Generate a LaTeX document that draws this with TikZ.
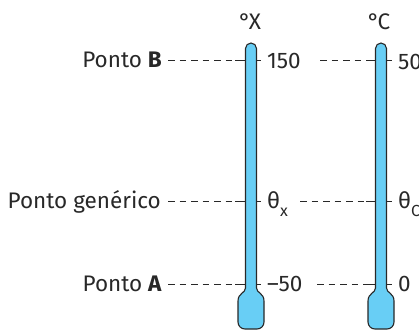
\documentclass[tikz,border=0pt]{standalone}
\usepackage{fontspec}
\setmainfont{Fira Sans}
\definecolor{tubeblue}{RGB}{104,206,245}
\definecolor{ink}{RGB}{40,40,40}
\tikzset{
  thermo/.style={draw=ink, line width=1.1pt, fill=tubeblue, line join=round},
  lbl/.style={font=\fontsize{22.5}{26}\selectfont, text=ink, inner sep=0pt},
  dsh/.style={draw=ink, line width=0.9pt, dash pattern=on 6.5pt off 5pt},
  tick/.style={draw=ink, line width=0.9pt}
}
\newcommand\mysub[1]{\raisebox{-8pt}{\fontsize{16}{18}\selectfont #1}}
\newcommand\mythermo[1]{%
  \draw[thermo] ({#1-5.5},288) [rounded corners=5.5pt] -- ({#1-5.5},43) -- ({#1+5.5},43) [sharp corners] -- ({#1+5.5},288)
    .. controls ({#1+5.5},293) and ({#1+13},293) .. ({#1+13},301) [rounded corners=7pt] -- ({#1+13},329) -- ({#1-13},329) [sharp corners] -- ({#1-13},301)
    .. controls ({#1-13},293) and ({#1-5.5},293) .. ({#1-5.5},288) -- cycle;
}
\begin{document}
\begin{tikzpicture}[x=1pt,y=-1pt]
\useasboundingbox (0,0) rectangle (419,331);
% thermometers
\mythermo{251}
\mythermo{381}
% units
\node[lbl, anchor=base] (uX) at (250,30) {°\kern-2pt X};
\node[lbl, anchor=base] (uC) at (379,30) {°\kern-2pt C};
% left labels
\node[lbl, anchor=base east] (pB) at (162,68) {Ponto \textbf{B}};
\node[lbl, anchor=base east] (pG) at (161,208) {Ponto genérico};
\node[lbl, anchor=base east] (pA) at (162,291) {Ponto \textbf{A}};
% values X
\node[lbl, anchor=base west] (v150) at (267,69) {150};
\node[lbl, anchor=base west] (thx) at (267,208) {θ\mysub{x}};
\node[lbl, anchor=base west] (vm50) at (267,291) {–50};
% values C
\node[lbl, anchor=base west] (v50) at (398,70) {50};
\node[lbl, anchor=base west] (thc) at (398,208) {θ\mysub{C}};
\node[lbl, anchor=base west] (v0) at (398,291) {0};
% tick coordinates X
\coordinate (xBl) at (235,60); \coordinate (xBi) at (245.5,60); \coordinate (xBr) at (256.5,60); \coordinate (xBe) at (261,60);
\coordinate (xGl) at (235,201.5); \coordinate (xGi) at (245.5,201.5); \coordinate (xGr) at (256.5,201.5); \coordinate (xGe) at (261,201.5);
\coordinate (xAl) at (235,284); \coordinate (xAi) at (245.5,284); \coordinate (xAr) at (256.5,284); \coordinate (xAe) at (261,284);
% tick coordinates C
\coordinate (cBl) at (366,60); \coordinate (cBi) at (375.5,60); \coordinate (cBr) at (386.5,60); \coordinate (cBe) at (392,60);
\coordinate (cGl) at (366,201.5); \coordinate (cGi) at (375.5,201.5); \coordinate (cGr) at (386.5,201.5); \coordinate (cGe) at (392,201.5);
\coordinate (cAl) at (366,284); \coordinate (cAi) at (375.5,284); \coordinate (cAr) at (386.5,284); \coordinate (cAe) at (392,284);
% dash starts
\coordinate (sB) at (168,60); \coordinate (sG) at (168,201.5); \coordinate (sA) at (168,284);
\coordinate (mB) at (320,60); \coordinate (mG) at (300,201.5); \coordinate (mA) at (317,284);
% dashed lines
\draw[dsh] (sB) -- (xBl); \draw[dsh] (sG) -- (xGl); \draw[dsh] (sA) -- (xAl);
\draw[dsh] (mB) -- (cBl); \draw[dsh] (mG) -- (cGl); \draw[dsh] (mA) -- (cAl);
% ticks
\foreach \t in {xB,xG,xA,cB,cG,cA}{
  \draw[tick] (\t l) -- (\t i);
  \draw[tick] (\t r) -- (\t e);
}
\end{tikzpicture}
\end{document}
